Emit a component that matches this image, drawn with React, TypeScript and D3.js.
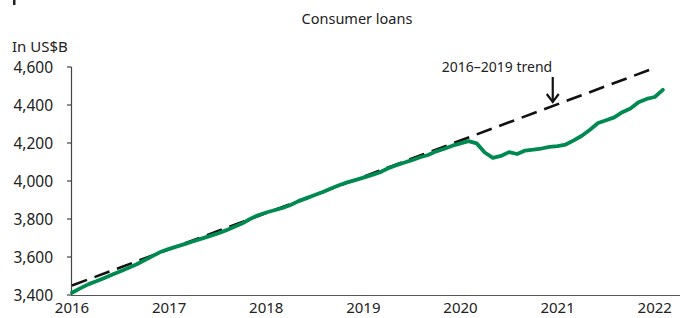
import * as d3 from "d3";
import { useMemo } from "react";

// monthly consumer loans, Jan 2016 – Feb 2022 (US$B)
const startYear = 2016;
const loans = [
  // 2016
  3412, 3435, 3456, 3472, 3490, 3508, 3525, 3543, 3562, 3584, 3606, 3628,
  // 2017
  3643, 3656, 3669, 3683, 3697, 3710, 3724, 3740, 3758, 3776, 3800, 3820,
  // 2018
  3834, 3846, 3858, 3874, 3894, 3910, 3926, 3942, 3960, 3978, 3993, 4005,
  // 2019
  4018, 4031, 4045, 4066, 4082, 4096, 4110, 4125, 4137, 4156, 4170, 4186,
  // 2020
  4198, 4210, 4198, 4150, 4122, 4132, 4152, 4142, 4160, 4165, 4171, 4180,
  // 2021
  4184, 4192, 4214, 4238, 4270, 4305, 4320, 4335, 4362, 4382, 4415, 4432,
  // 2022
  4442, 4480,
];
const trendYears = [2016, 2022];
const trendValues = [3450, 4595];
const yTicks = [3400, 3600, 3800, 4000, 4200, 4400, 4600];
const xTicks = [2016, 2017, 2018, 2019, 2020, 2021, 2022];
const arrowYear = 2020.95;

const W = 686;
const H = 318;
const font = "'Noto Sans', 'Open Sans', sans-serif";

export default function App() {
  const x = useMemo(() => d3.scaleLinear().domain([2016, 2022.25]).range([72, 679]), []);
  const y = useMemo(() => d3.scaleLinear().domain([3400, 4600]).range([295, 67]), []);

  const points = loans.map((v, i) => [startYear + i / 12, v] as [number, number]);
  const line = d3
    .line<[number, number]>()
    .x((d) => x(d[0]))
    .y((d) => y(d[1]));

  const trend = d3.scaleLinear().domain(trendYears).range(trendValues);
  const trendPath = d3
    .line<number>()
    .x((d) => x(d))
    .y((d) => y(trend(d)))(trendYears);

  const ax = x(arrowYear);
  const ay = y(trend(arrowYear)) - 4;

  return (
    <svg
      width={W}
      height={H}
      style={{ position: "absolute", left: 0, top: 0, background: "#fff" }}
      fontFamily={font}
    >
      <rect x={13} y={0} width={2.5} height={5} fill="#222" />
      <text x={357} y={24} textAnchor="middle" fontSize={14.5} fill="#222">
        Consumer loans
      </text>
      <text x={12} y={52} fontSize={15} fill="#222">
        In US$B
      </text>

      {/* y axis */}
      <line x1={71.5} x2={71.5} y1={y(4600)} y2={y(3400)} stroke="#444" strokeWidth={1.2} />
      {yTicks.map((t) => (
        <g key={t}>
          <line x1={67} x2={71.5} y1={y(t)} y2={y(t)} stroke="#444" strokeWidth={1.2} />
          <text x={53} y={y(t) + 5.5} textAnchor="end" fontSize={15.5} fill="#222">
            {d3.format(",")(t)}
          </text>
        </g>
      ))}

      {/* x axis */}
      <line x1={71} x2={680} y1={295.5} y2={295.5} stroke="#555" strokeWidth={1.2} />
      {xTicks.map((t) => (
        <text key={t} x={x(t)} y={313} textAnchor="middle" fontSize={15} fill="#222">
          {t}
        </text>
      ))}

      {/* trend */}
      <path
        d={trendPath ?? ""}
        fill="none"
        stroke="#111"
        strokeWidth={2.6}
        strokeDasharray="16,8"
      />

      {/* loans */}
      <path
        d={line(points) ?? ""}
        fill="none"
        stroke="#008a4f"
        strokeWidth={3.8}
        strokeLinejoin="round"
        strokeLinecap="round"
      />

      {/* annotation */}
      <text x={497} y={72} textAnchor="middle" fontSize={14} fill="#222">
        2016–2019 trend
      </text>
      <line x1={ax} x2={ax} y1={77} y2={ay} stroke="#111" strokeWidth={2.2} />
      <path
        d={`M${ax - 6},${ay - 8} L${ax},${ay} L${ax + 6},${ay - 8}`}
        fill="none"
        stroke="#111"
        strokeWidth={2.2}
      />
    </svg>
  );
}
